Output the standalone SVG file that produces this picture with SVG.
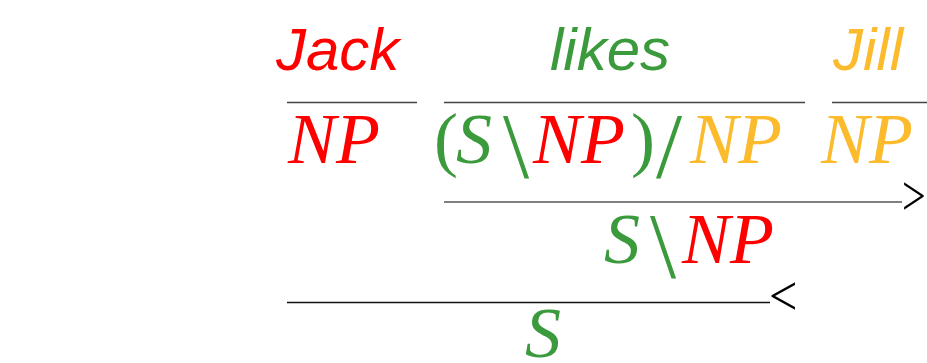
<svg xmlns="http://www.w3.org/2000/svg" width="927" height="363" viewBox="0 0 927 363">
<style>
.w{font-family:"Liberation Sans",Arial,sans-serif;font-style:italic;font-size:60px}
.m{font-family:"Liberation Serif","Times New Roman",serif;font-style:italic;font-size:72px}
.u{font-family:"Liberation Serif","Times New Roman",serif;font-style:normal}
.op{font-family:"Liberation Serif","Times New Roman",serif;font-size:94px;font-style:normal}
.rel{font-family:"Liberation Serif","Times New Roman",serif;font-size:56px;font-style:normal;fill:#000}
.r{fill:#ff0000}.g{fill:#3a9a3c}.o{fill:#fbbb2d}
.ln{stroke:#444;stroke-width:1.3;fill:none}
</style>
<rect width="927" height="363" fill="#fff"/>
<g id="connectors">
<line class="ln" x1="287" y1="102.5" x2="417" y2="102.5"/>
<line class="ln" x1="444" y1="102.5" x2="805" y2="102.5"/>
<line class="ln" x1="832" y1="102.5" x2="927" y2="102.5"/>
<line class="ln" x1="444" y1="202" x2="902" y2="202" style="stroke:#555"/>
<line class="ln" x1="287" y1="302.5" x2="770" y2="302.5" style="stroke:#111"/>
<text class="rel" transform="translate(902,215) scale(0.75,1)">&gt;</text>
<text class="rel" transform="translate(769,315) scale(0.9,1)">&lt;</text>
</g>
<g id="jack">
<text class="w r" x="276" y="70">Jack</text>
<text class="m r" x="288" y="163">NP</text>
</g>
<g id="likes">
<text class="w g" x="550" y="70">likes</text>
<text class="u g" x="434" y="163" font-size="72">(</text>
<text class="m g" x="456" y="163">S</text>
<text class="op g" x="503" y="177">\</text>
<text class="m r" x="533" y="163">NP</text>
<text class="u g" x="631" y="163" font-size="72">)</text>
<text class="op g" x="656" y="177">/</text>
<text class="m o" x="690" y="163">NP</text>
</g>
<g id="jill">
<text class="w o" x="833" y="70">Jill</text>
<text class="m o" x="821" y="163">NP</text>
</g>
<g id="vp">
<text class="m g" x="604" y="263">S</text>
<text class="op g" x="650" y="277">\</text>
<text class="m r" x="682" y="263">NP</text>
</g>
<g id="s">
<text class="m g" x="525" y="357">S</text>
</g>
</svg>
